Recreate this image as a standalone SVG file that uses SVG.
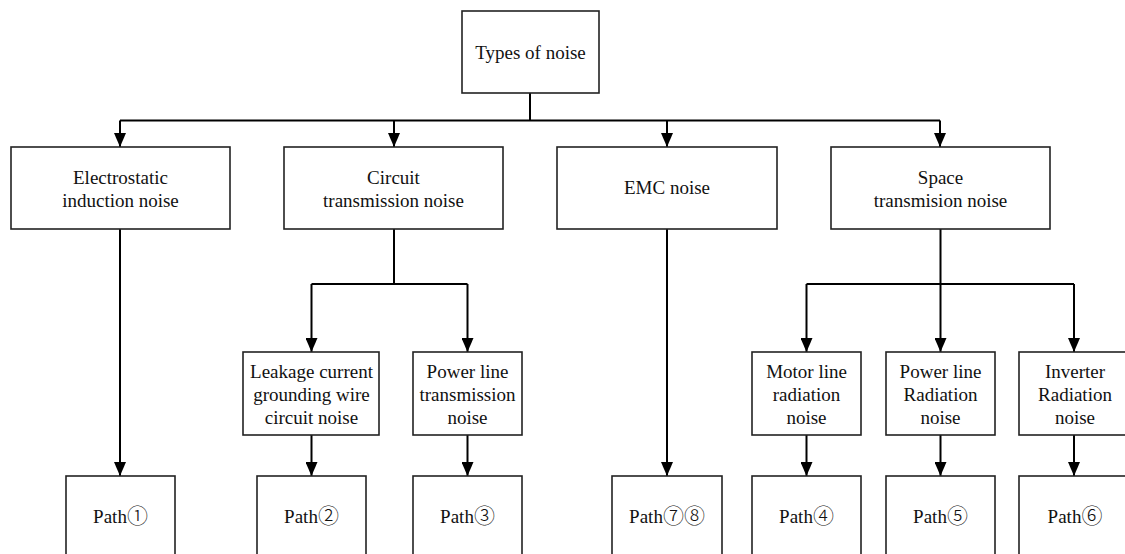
<svg xmlns="http://www.w3.org/2000/svg" width="1125" height="554" viewBox="0 0 1125 554">
<style>
.box{fill:#fff;stroke:#222;stroke-width:1.6}
.t{font-family:"Liberation Serif","Noto Serif CJK SC","Noto Sans CJK SC",serif;font-size:19px;fill:#111;text-anchor:middle}
.n{font-family:"Noto Sans CJK SC","Noto Sans CJK JP",sans-serif;font-size:21px;font-weight:300}
.c{fill:none;stroke:#000;stroke-width:2}
.a{fill:none;stroke:#000;stroke-width:2;marker-end:url(#arr)}
</style>
<defs>
<marker id="arr" markerUnits="userSpaceOnUse" markerWidth="14" markerHeight="12" viewBox="0 0 14 12" refX="14" refY="6" orient="auto">
<path d="M0,0 L14,6 L0,12 z" fill="#000"/>
</marker>
</defs>
<rect width="1125" height="554" fill="#fff"/>
<g id="connectors">
<path class="c" d="M530,93 V120.5 M120,120.5 H940"/>
<path class="a" d="M120,120.5 V147"/>
<path class="a" d="M394,120.5 V147"/>
<path class="a" d="M667,120.5 V147"/>
<path class="a" d="M940,120.5 V147"/>
<path class="a" d="M120,229 V476"/>
<path class="a" d="M667,229 V476"/>
<path class="c" d="M394,229 V284 M311.5,284 H467.5"/>
<path class="a" d="M311.5,284 V352"/>
<path class="a" d="M467.5,284 V352"/>
<path class="c" d="M940.5,229 V284 M806.5,284 H1074"/>
<path class="a" d="M806.5,284 V352"/>
<path class="a" d="M940.5,284 V352"/>
<path class="a" d="M1074,284 V352"/>
<path class="a" d="M311.5,435 V476"/>
<path class="a" d="M467.5,435 V476"/>
<path class="a" d="M806.5,435 V476"/>
<path class="a" d="M940.5,435 V476"/>
<path class="a" d="M1074,435 V476"/>
</g>
<g id="root"><rect class="box" x="462" y="11" width="137" height="82"/><text class="t" x="530.5" y="59">Types of noise</text></g>
<g id="electrostatic"><rect class="box" x="11" y="147" width="219" height="82"/><text class="t" x="120.5" y="184">Electrostatic</text><text class="t" x="120.5" y="207">induction noise</text></g>
<g id="circuit"><rect class="box" x="284" y="147" width="219" height="82"/><text class="t" x="393.5" y="184">Circuit</text><text class="t" x="393.5" y="207">transmission noise</text></g>
<g id="emc"><rect class="box" x="557" y="147" width="220" height="82"/><text class="t" x="667" y="194">EMC noise</text></g>
<g id="space"><rect class="box" x="831" y="147" width="219" height="82"/><text class="t" x="940.5" y="184">Space</text><text class="t" x="940.5" y="207">transmision noise</text></g>
<g id="leakage"><rect class="box" x="243" y="352" width="136" height="83"/><text class="t" x="311.5" y="378">Leakage current</text><text class="t" x="311.5" y="401">grounding wire</text><text class="t" x="311.5" y="424">circuit noise</text></g>
<g id="powerlinetrans"><rect class="box" x="413" y="352" width="109" height="83"/><text class="t" x="467.5" y="378">Power line</text><text class="t" x="467.5" y="401">transmission</text><text class="t" x="467.5" y="424">noise</text></g>
<g id="motor"><rect class="box" x="752" y="352" width="109" height="83"/><text class="t" x="806.5" y="378">Motor line</text><text class="t" x="806.5" y="401">radiation</text><text class="t" x="806.5" y="424">noise</text></g>
<g id="powerlinerad"><rect class="box" x="886" y="352" width="109" height="83"/><text class="t" x="940.5" y="378">Power line</text><text class="t" x="940.5" y="401">Radiation</text><text class="t" x="940.5" y="424">noise</text></g>
<g id="inverter"><rect class="box" x="1019" y="352" width="112" height="83"/><text class="t" x="1075" y="378">Inverter</text><text class="t" x="1075" y="401">Radiation</text><text class="t" x="1075" y="424">noise</text></g>
<g id="path1"><rect class="box" x="66" y="476" width="109" height="90"/><text class="t" x="120.5" y="523">Path<tspan class="n">①</tspan></text></g>
<g id="path2"><rect class="box" x="257" y="476" width="109" height="90"/><text class="t" x="311.5" y="523">Path<tspan class="n">②</tspan></text></g>
<g id="path3"><rect class="box" x="413" y="476" width="109" height="90"/><text class="t" x="467.5" y="523">Path<tspan class="n">③</tspan></text></g>
<g id="path78"><rect class="box" x="612" y="476" width="110" height="90"/><text class="t" x="667" y="523">Path<tspan class="n">⑦⑧</tspan></text></g>
<g id="path4"><rect class="box" x="752" y="476" width="109" height="90"/><text class="t" x="806.5" y="523">Path<tspan class="n">④</tspan></text></g>
<g id="path5"><rect class="box" x="886" y="476" width="109" height="90"/><text class="t" x="940.5" y="523">Path<tspan class="n">⑤</tspan></text></g>
<g id="path6"><rect class="box" x="1019" y="476" width="112" height="90"/><text class="t" x="1075" y="523">Path<tspan class="n">⑥</tspan></text></g>
</svg>
